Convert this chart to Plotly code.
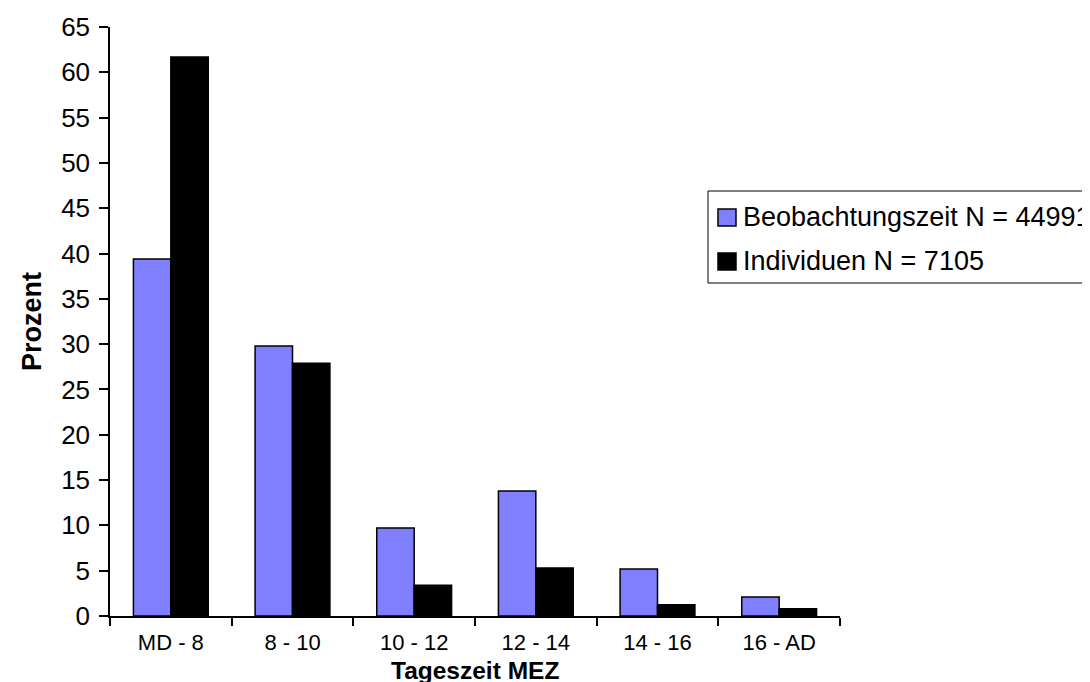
import plotly.graph_objects as go

categories = ["MD - 8", "8 - 10", "10 - 12", "12 - 14", "14 - 16", "16 - AD"]
beobachtung = [39.4, 29.8, 9.7, 13.8, 5.2, 2.1]
individuen = [61.7, 27.9, 3.4, 5.3, 1.25, 0.8]
name_beob = "Beobachtungszeit N = 44991"
name_ind = "Individuen N = 7105"
x_title = "<b>Tageszeit MEZ</b>"
y_title = "<b>Prozent</b>"
y_ticks = list(range(0, 70, 5))

FONT = "Liberation Sans, Arial, sans-serif"
BLUE = "#8080FF"

OFF = 8  # page body margin
W, H = 1090, 682
# plot area in screen pixels: x 110..840, y 27..616
SX0, SX1, SY0, SY1 = 110, 840, 27, 616
L, T = SX0 - OFF, SY0 - OFF
R = W - (SX1 - OFF)
B = H - (SY1 - OFF)
PW, PH = SX1 - SX0, SY1 - SY0


def px(xs):
    return (xs - SX0) / PW


def py(ys):
    return (SY1 - ys) / PH


fig = go.Figure()
fig.add_trace(go.Bar(x=categories, y=beobachtung, name=name_beob,
                     marker=dict(color=BLUE, line=dict(color="black", width=1.5))))
fig.add_trace(go.Bar(x=categories, y=individuen, name=name_ind,
                     marker=dict(color="black", line=dict(color="black", width=1.5))))

# manual legend (box clipped at the right edge like the reference)
shapes = [
    dict(type="rect", xref="paper", yref="paper",
         x0=px(708), x1=px(1120), y0=py(283), y1=py(191),
         line=dict(color="black", width=1), fillcolor="white", layer="above"),
]
annotations = []
for i, (nm, col) in enumerate([(name_beob, BLUE), (name_ind, "black")]):
    cy = 217 + i * 44
    shapes.append(dict(type="rect", xref="paper", yref="paper",
                       x0=px(718), x1=px(736), y0=py(cy + 9), y1=py(cy - 8),
                       line=dict(color="black", width=1.5), fillcolor=col, layer="above"))
    annotations.append(dict(text=nm, xref="paper", yref="paper",
                            x=px(741), y=py(cy), xanchor="left", yanchor="middle",
                            showarrow=False, font=dict(size=27, family=FONT, color="black")))

annotations.append(dict(text=x_title, xref="paper", yref="paper",
                        x=0.5, y=py(670), xanchor="center", yanchor="middle",
                        showarrow=False, font=dict(size=24.5, family=FONT, color="black")))

fig.update_layout(
    width=W, height=H,
    margin=dict(l=L, r=R, t=T, b=B),
    paper_bgcolor="white", plot_bgcolor="white",
    font=dict(family=FONT, color="black"),
    barmode="group", bargap=0.385, bargroupgap=0,
    showlegend=False,
    shapes=shapes, annotations=annotations,
)
fig.update_xaxes(
    type="category", range=[-0.5, 5.5], automargin=False,
    showline=True, linecolor="black", linewidth=1.5,
    ticks="outside", tickson="boundaries", ticklen=8, tickwidth=1.5, tickcolor="black",
    tickfont=dict(size=22), ticklabelstandoff=6,
    showgrid=False, zeroline=False,
)
fig.update_yaxes(
    range=[0, 65], tickvals=y_ticks, automargin=False,
    showline=True, linecolor="black", linewidth=1.5,
    ticks="outside", ticklen=9, tickwidth=1.5, tickcolor="black",
    tickfont=dict(size=26), ticklabelstandoff=4,
    showgrid=False, zeroline=False,
    title=dict(text=y_title, font=dict(size=27), standoff=12),
)

fig.write_html("out.html")
